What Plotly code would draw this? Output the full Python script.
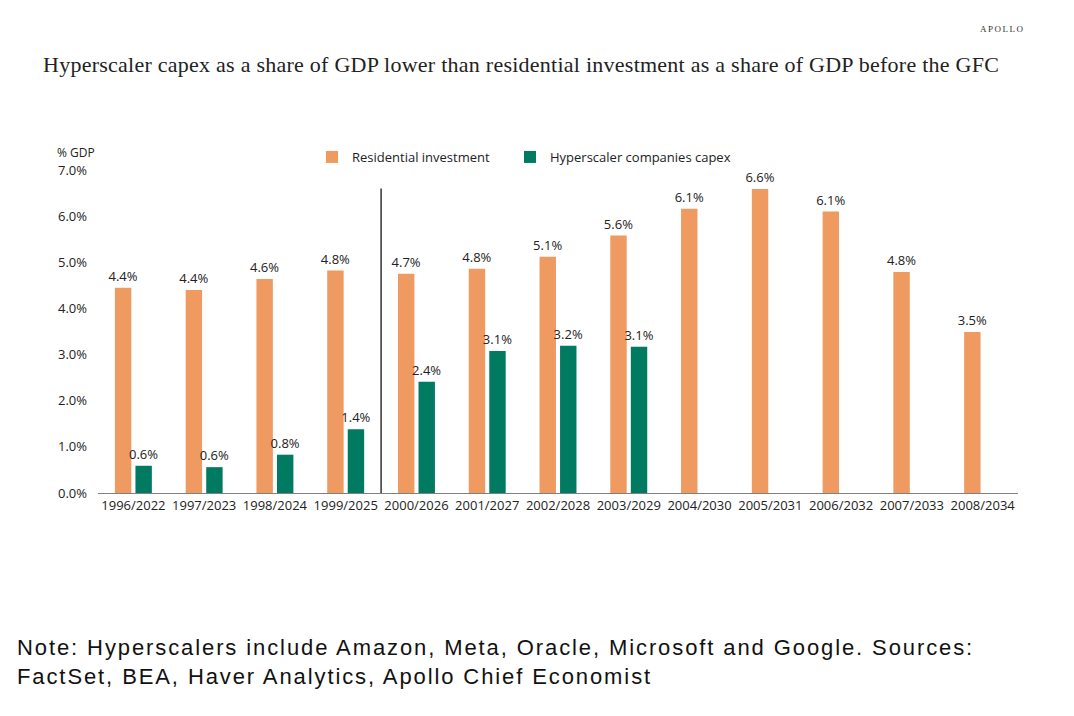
import plotly.graph_objects as go

# period labels (housing boom year / hyperscaler year)
periods = ["1996/2022", "1997/2023", "1998/2024", "1999/2025", "2000/2026",
           "2001/2027", "2002/2028", "2003/2029", "2004/2030", "2005/2031",
           "2006/2032", "2007/2033", "2008/2034"]

# % of GDP
residential = [4.45, 4.40, 4.64, 4.82, 4.75, 4.86, 5.12, 5.58, 6.16, 6.59, 6.10, 4.79, 3.49]
hyperscaler = [0.59, 0.56, 0.83, 1.38, 2.41, 3.08, 3.19, 3.17, None, None, None, None, None]

# bar labels as printed on the chart
res_text = ["4.4%", "4.4%", "4.6%", "4.8%", "4.7%", "4.8%", "5.1%", "5.6%",
            "6.1%", "6.6%", "6.1%", "4.8%", "3.5%"]
hyp_text = ["0.6%", "0.6%", "0.8%", "1.4%", "2.4%", "3.1%", "3.2%", "3.1%",
            "", "", "", "", ""]

y_ticks = [0, 1, 2, 3, 4, 5, 6, 7]

ORANGE = "#EE9A60"
GREEN = "#007A61"
chart_font = "Open Sans"

# page body adds an 8px margin, so lay out in figure coords shifted by that
OFF = 8
L, R, T, B = 98 - OFF, 1018 - OFF, 170 - OFF, 493 - OFF
W, H = 1074, 716


def px(x):
    return (x - OFF - L) / (R - L)


def py(y):
    return (B - (y - OFF)) / (B - T)


fig = go.Figure()
fig.add_trace(go.Bar(
    x=periods, y=residential, name="Residential investment", legend="legend",
    marker=dict(color=ORANGE, line=dict(width=0)),
    text=res_text, textposition="outside", constraintext="none",
    textfont=dict(size=13, color="#222222"), cliponaxis=False,
))
fig.add_trace(go.Bar(
    x=periods, y=hyperscaler, name="Hyperscaler companies capex", legend="legend2",
    marker=dict(color=GREEN, line=dict(width=0)),
    text=hyp_text, textposition="outside", constraintext="none",
    textfont=dict(size=13, color="#222222"), cliponaxis=False,
))

# divider between past and projected hyperscaler years
fig.add_shape(type="line", xref="x", yref="y", x0=3.5, x1=3.5, y0=0, y1=6.6,
              line=dict(color="black", width=1.2))

legend_style = dict(orientation="h", xanchor="left", yanchor="middle",
                    font=dict(size=13, family=chart_font), itemwidth=30,
                    bgcolor="rgba(0,0,0,0)")

fig.update_layout(
    width=W, height=H,
    paper_bgcolor="white", plot_bgcolor="white",
    margin=dict(l=L, r=W - R, t=T, b=H - B),
    barmode="group", bargap=0.42, bargroupgap=0.2,
    font=dict(family=chart_font, size=13, color="#222222"),
    showlegend=True,
    legend=dict(x=px(312), y=py(157), **legend_style),
    legend2=dict(x=px(510), y=py(157), **legend_style),
    xaxis=dict(showline=True, linecolor="#808080", linewidth=1, showgrid=False,
               ticks="", tickfont=dict(size=13), fixedrange=True),
    yaxis=dict(range=[0, 7], tickvals=y_ticks,
               ticktext=[f"{v:.1f}%" for v in y_ticks],
               showgrid=False, zeroline=False, showline=False, ticks="",
               tickfont=dict(size=13), ticklabelstandoff=10),
    annotations=[
        dict(text="<span style='letter-spacing:0.25px'>Hyperscaler capex as a share of GDP lower than "
                  "residential investment as a share of GDP before the GFC</span>",
             xref="paper", yref="paper", x=px(521), y=py(64),
             xanchor="center", yanchor="middle", showarrow=False,
             font=dict(family="Liberation Serif", size=22, color="#222222")),
        dict(text="<span style='letter-spacing:1.5px'>APOLLO</span>", xref="paper", yref="paper",
             x=px(1027), y=py(29), xanchor="right", yanchor="middle",
             showarrow=False, font=dict(family="Liberation Serif", size=9, color="#333333")),
        dict(text="% GDP", xref="paper", yref="paper", x=px(55),
             y=py(152), xanchor="left", yanchor="middle", showarrow=False,
             font=dict(family=chart_font, size=12, color="#222222")),
        dict(text="<span style='letter-spacing:1.9px'>Note: Hyperscalers include Amazon, Meta, Oracle, "
                  "Microsoft and Google. Sources:</span><br>"
                  "<span style='letter-spacing:1.9px'>FactSet, BEA, Haver Analytics, Apollo Chief Economist</span>",
             xref="paper", yref="paper", x=px(15), y=py(662),
             xanchor="left", yanchor="middle", align="left", showarrow=False,
             font=dict(family="Liberation Sans", size=22, color="#111111")),
    ],
)

fig.write_html("out.html")
